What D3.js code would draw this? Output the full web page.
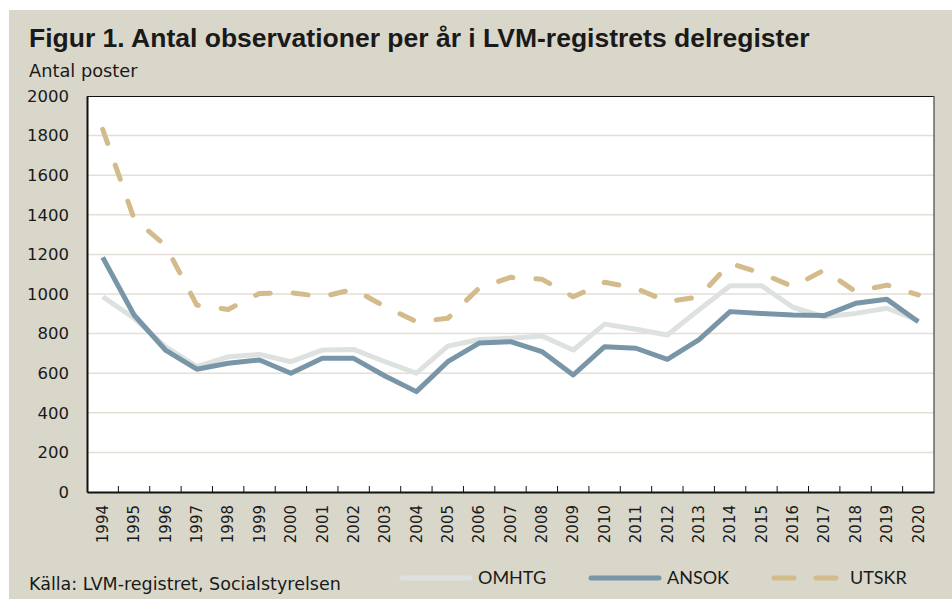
<!DOCTYPE html>
<html>
<head>
<meta charset="utf-8">
<script src="https://cdn.jsdelivr.net/npm/d3@7"></script>
<style>
  body { margin: 0; background: #fff; }
  svg text { fill: #1a1a1a; }
</style>
</head>
<body>
<div id="viz"></div>
<script>
const years = d3.range(1994, 2021).map(String);
const omhtg = [986, 878, 734, 633, 683, 695, 658, 717, 720, 658, 600, 737, 770, 776, 788, 717, 848, 822, 793, 919, 1042, 1042, 933, 885, 902, 928, 866];
const ansok = [1185, 894, 717, 620, 650, 667, 600, 675, 675, 586, 507, 658, 752, 759, 709, 591, 734, 726, 670, 768, 911, 902, 894, 891, 953, 973, 860];
const utskr = [1832, 1380, 1245, 944, 922, 1003, 1007, 986, 1024, 936, 860, 877, 1030, 1084, 1075, 986, 1059, 1029, 961, 985, 1155, 1105, 1037, 1121, 1012, 1045, 995];
const yTicks = d3.range(0, 2001, 200);

const W = 952, H = 599;
const m = {left: 87, right: 934, top: 96, bottom: 492};
const font = "'DejaVu Sans', sans-serif";
const legFont = "Lato, 'Noto Sans', sans-serif";

const series = [
  {name: 'OMHTG', values: omhtg, color: '#dde2e1', dash: null},
  {name: 'ANSOK', values: ansok, color: '#7896a8', dash: null},
  {name: 'UTSKR', values: utskr, color: '#d3bb8b', dash: '15,23'}
];

const svg = d3.select('#viz').append('svg')
  .attr('width', W)
  .attr('height', H);

// background panel
svg.append('rect')
  .attr('x', 9).attr('y', 10)
  .attr('width', W - 9).attr('height', H - 10)
  .attr('fill', '#d9d7ca');

svg.append('text')
  .attr('x', 29).attr('y', 47)
  .attr('font-family', "'Liberation Sans', Arial, sans-serif")
  .attr('font-weight', 'bold')
  .attr('font-size', 26.5)
  .text('Figur 1. Antal observationer per år i LVM-registrets delregister');

svg.append('text')
  .attr('x', 29).attr('y', 77)
  .attr('font-family', font)
  .attr('font-size', 17.8)
  .text('Antal poster');

const x = d3.scaleBand()
  .domain(years)
  .range([m.left, m.right]);

const y = d3.scaleLinear()
  .domain([0, 2000])
  .range([m.bottom, m.top]);

svg.append('rect')
  .attr('x', m.left).attr('y', m.top)
  .attr('width', m.right - m.left).attr('height', m.bottom - m.top)
  .attr('fill', '#fff');

// gridlines
svg.append('g')
  .selectAll('line')
  .data(yTicks.slice(1, -1))
  .enter()
  .append('line')
  .attr('x1', m.left).attr('x2', m.right)
  .attr('y1', d => y(d)).attr('y2', d => y(d))
  .attr('stroke', '#e2dfd6')
  .attr('stroke-width', 1.5);

// frame
svg.append('line')
  .attr('x1', m.left).attr('x2', m.right)
  .attr('y1', m.top + 0.5).attr('y2', m.top + 0.5)
  .attr('stroke', '#111').attr('stroke-width', 1);
svg.append('line')
  .attr('x1', m.right).attr('x2', m.right)
  .attr('y1', m.top).attr('y2', m.bottom)
  .attr('stroke', '#666').attr('stroke-width', 1.5);

// y axis
const yAxis = svg.append('g')
  .attr('transform', `translate(${m.left},0)`)
  .call(d3.axisLeft(y).tickValues(yTicks).tickFormat(d3.format('d')).tickSize(0).tickPadding(18));
yAxis.select('.domain').attr('stroke', '#111').attr('stroke-width', 2);
yAxis.selectAll('text')
  .attr('font-family', font)
  .attr('font-size', 16.5)
  .attr('fill', '#1a1a1a');

// x axis, ticks between categories pointing inward
const xAxis = svg.append('g')
  .attr('transform', `translate(0,${m.bottom})`)
  .call(d3.axisBottom(x).tickSize(0).tickPadding(0));
xAxis.select('.domain').attr('stroke', '#111').attr('stroke-width', 2);
xAxis.selectAll('.tick text')
  .attr('font-family', font)
  .attr('font-size', 15)
  .attr('fill', '#1a1a1a')
  .attr('text-anchor', 'end')
  .attr('transform', 'rotate(-90)')
  .attr('x', -13)
  .attr('y', 0)
  .attr('dy', '0.35em');
xAxis.selectAll('line.sep')
  .data(years.slice(1))
  .enter()
  .append('line')
  .attr('class', 'sep')
  .attr('x1', d => x(d)).attr('x2', d => x(d))
  .attr('y1', 0).attr('y2', -6)
  .attr('stroke', '#111').attr('stroke-width', 1);

// lines
const line = d3.line()
  .x((d, i) => x(years[i]) + x.bandwidth() / 2)
  .y(d => y(d));

svg.append('g')
  .selectAll('path')
  .data(series)
  .enter()
  .append('path')
  .attr('d', d => line(d.values))
  .attr('fill', 'none')
  .attr('stroke', d => d.color)
  .attr('stroke-width', 5)
  .attr('stroke-linejoin', 'round')
  .attr('stroke-linecap', d => d.dash ? 'round' : 'butt')
  .attr('stroke-dasharray', d => d.dash);

// source
svg.append('text')
  .attr('x', 29).attr('y', 590)
  .attr('font-family', font)
  .attr('font-size', 17.5)
  .text('Källa: LVM-registret, Socialstyrelsen');

// legend
const legX = [400, 589, 772];
const leg = svg.append('g')
  .selectAll('g')
  .data(series)
  .enter()
  .append('g')
  .attr('transform', (d, i) => `translate(${legX[i]},578)`);
leg.append('line')
  .attr('x1', 2).attr('x2', d => d.dash ? 64 : 70)
  .attr('stroke', d => d.color)
  .attr('stroke-width', 5)
  .attr('stroke-linecap', 'round')
  .attr('stroke-dasharray', d => d.dash ? '20,22' : null);
leg.append('text')
  .attr('x', 78)
  .attr('y', 6)
  .attr('font-family', legFont)
  .attr('font-size', 18)
  .text(d => d.name);
</script>
</body>
</html>
